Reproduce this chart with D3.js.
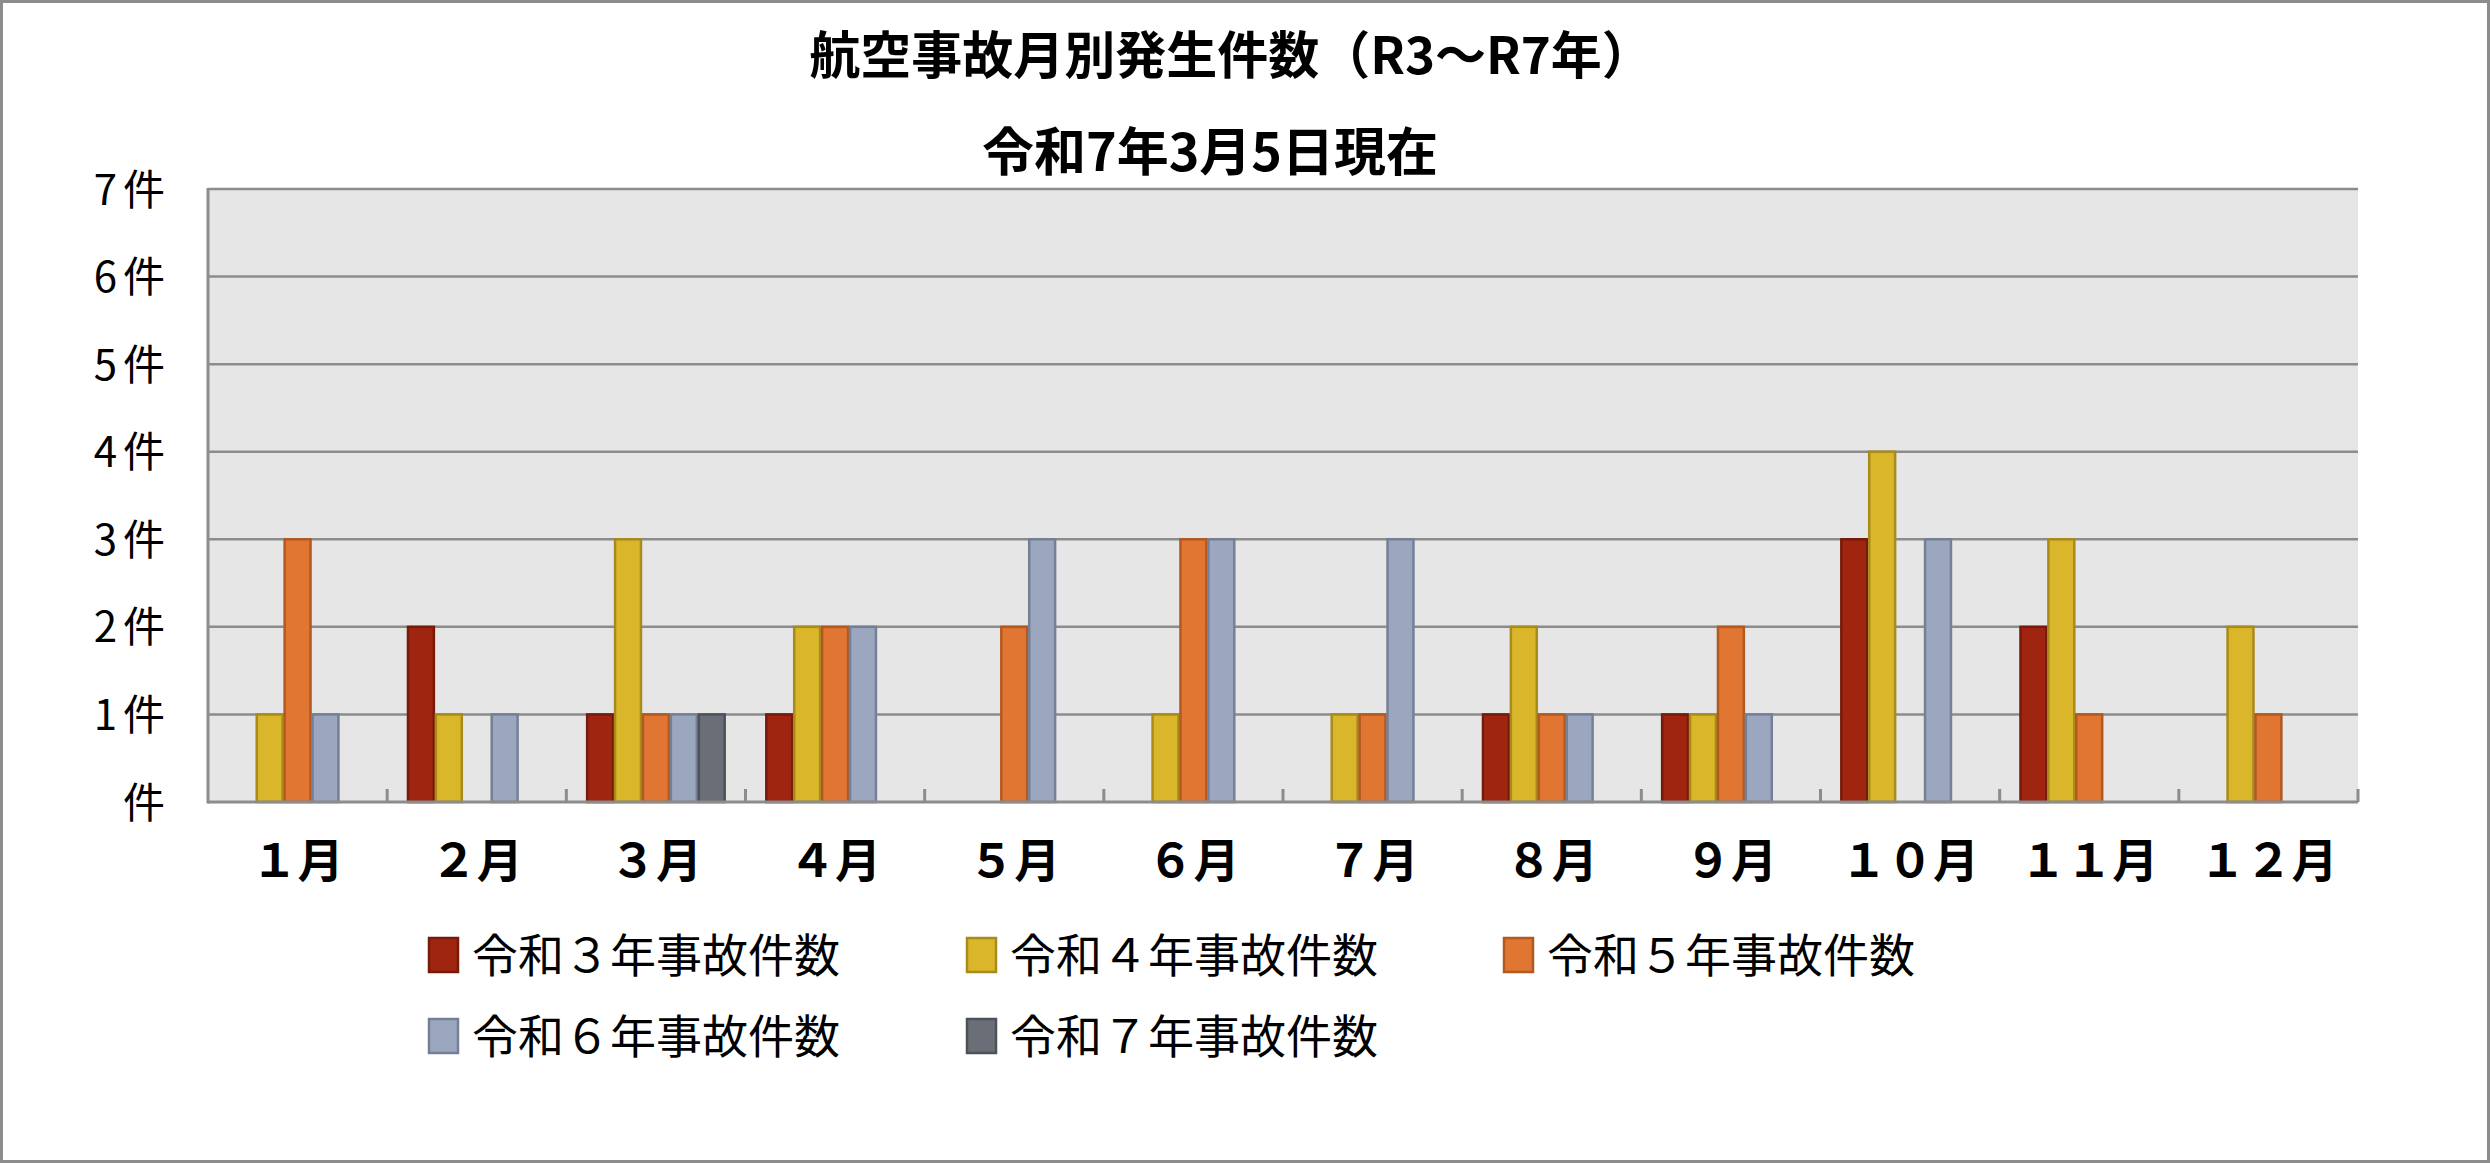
<!DOCTYPE html>
<html><head><meta charset="utf-8">
<script src="https://cdn.jsdelivr.net/npm/d3@7"></script>
<style>
html,body{margin:0;padding:0;background:#fff;}
svg{display:block;}
text{font-family:"Noto Sans CJK JP","Noto Sans",sans-serif;}
</style></head>
<body>
<svg id="chart" width="2490" height="1163"></svg>
<script>
const titleText = "航空事故月別発生件数（R3～R7年）";
const subtitleText = "令和7年3月5日現在";
const months = ["１月","２月","３月","４月","５月","６月","７月","８月","９月","１０月","１１月","１２月"];
const seriesNames = ["令和３年事故件数","令和４年事故件数","令和５年事故件数","令和６年事故件数","令和７年事故件数"];
const r3 = [0,2,1,1,0,0,0,1,1,3,2,0];
const r4 = [1,1,3,2,0,1,1,2,1,4,3,2];
const r5 = [3,0,1,2,2,3,1,1,2,0,1,1];
const r6 = [1,1,1,2,3,3,3,1,1,3,0,0];
const r7 = [0,0,1,null,null,null,null,null,null,null,null,null];
const yTickValues = [0,1,2,3,4,5,6,7];
const yTickLabels = ["件","1件","2件","3件","4件","5件","6件","7件"];
const fills = ["#A02511","#D9B62A","#E07632","#9BA6BF","#6A6E77"];
const strokes = ["#761A09","#A88B1B","#B05A22","#767F96","#4D5158"];

const seriesValues = [r3,r4,r5,r6,r7];
const svg = d3.select("#chart");
const W = 2490, H = 1163;
const L = 208, R = 2358, T = 189, B = 802;

// outer border
svg.append("rect").attr("x",1.5).attr("y",1.5).attr("width",W-3).attr("height",H-3)
  .attr("fill","#fff").attr("stroke","#8c8c8c").attr("stroke-width",3);

// titles
svg.append("text").attr("x",1231).attr("y",52).attr("text-anchor","middle")
  .attr("dominant-baseline","central").attr("font-size",51).attr("font-weight",700)
  .attr("fill","#000").text(titleText);
svg.append("text").attr("x",1210).attr("y",148).attr("text-anchor","middle")
  .attr("dominant-baseline","central").attr("font-size",52).attr("font-weight",700)
  .attr("fill","#000").text(subtitleText);

const x0 = d3.scaleBand().domain(months).range([L,R]).padding(0);
const x1 = d3.scaleBand().domain(d3.range(seriesNames.length)).range([0,x0.bandwidth()])
  .paddingInner(0).paddingOuter(0.71);
const y = d3.scaleLinear().domain([0,7]).range([B,T]);

// plot area
svg.append("rect").attr("x",L).attr("y",T).attr("width",R-L).attr("height",B-T).attr("fill","#e6e6e6");

// gridlines
svg.append("g").selectAll("line").data(yTickValues.filter(v=>v>0)).join("line")
  .attr("x1",L).attr("x2",R).attr("y1",d=>y(d)).attr("y2",d=>y(d))
  .attr("stroke","#8c8c8c").attr("stroke-width",2.5);

// bars
const barData = [];
months.forEach((m,i)=>{
  seriesValues.forEach((arr,s)=>{
    const v = arr[i];
    if (v != null && v > 0) barData.push({m, s, v});
  });
});
svg.append("g").selectAll("rect").data(barData).join("rect")
  .attr("x",d=>x0(d.m)+x1(d.s)+1)
  .attr("y",d=>y(d.v))
  .attr("width",x1.bandwidth()-2)
  .attr("height",d=>y(0)-y(d.v))
  .attr("fill",d=>fills[d.s])
  .attr("stroke",d=>strokes[d.s]).attr("stroke-width",2.5);

// axes lines
svg.append("line").attr("x1",L).attr("x2",L).attr("y1",T-1).attr("y2",B+1.5)
  .attr("stroke","#8c8c8c").attr("stroke-width",3);
svg.append("line").attr("x1",L).attr("x2",R).attr("y1",B).attr("y2",B)
  .attr("stroke","#8c8c8c").attr("stroke-width",3);
// category boundary ticks (pointing up into plot)
const boundaries = months.map(m=>x0(m)).concat([R]);
svg.append("g").selectAll("line").data(boundaries.slice(1)).join("line")
  .attr("x1",d=>d).attr("x2",d=>d).attr("y1",B).attr("y2",B-13)
  .attr("stroke","#8c8c8c").attr("stroke-width",3);

// y axis labels
const yAxis = d3.axisLeft(y).tickValues(yTickValues).tickFormat((d,i)=>yTickLabels[i]).tickSize(0).tickPadding(43);
const gy = svg.append("g").attr("transform",`translate(${L},0)`).call(yAxis);
gy.select(".domain").remove();
gy.selectAll("text").attr("font-size",42).attr("fill","#000")
  .attr("font-family",'"Noto Sans CJK JP",sans-serif').attr("dy","0.36em")
  .attr("letter-spacing","6px").attr("dx","6px");

// x axis labels
const xAxis = d3.axisBottom(x0).tickSize(0).tickPadding(42);
const gx = svg.append("g").attr("transform",`translate(0,${B})`).call(xAxis);
gx.select(".domain").remove();
gx.selectAll("text").attr("font-size",46).attr("font-weight",700).attr("fill","#000")
  .attr("font-family",'"Noto Sans CJK JP",sans-serif');

// legend
const legendPos = [[429,952],[967,952],[1504,952],[429,1033],[967,1033]];
const lg = svg.append("g").selectAll("g").data(seriesNames).join("g")
  .attr("transform",(d,i)=>`translate(${legendPos[i][0]},${legendPos[i][1]})`);
lg.append("rect").attr("x",0).attr("y",-14).attr("width",29).attr("height",34)
  .attr("fill",(d,i)=>fills[i]).attr("stroke",(d,i)=>strokes[i]).attr("stroke-width",2.5);
lg.append("text").attr("x",43).attr("y",0).attr("dominant-baseline","central")
  .attr("font-size",46).attr("fill","#000").text(d=>d);
</script>
</body></html>
